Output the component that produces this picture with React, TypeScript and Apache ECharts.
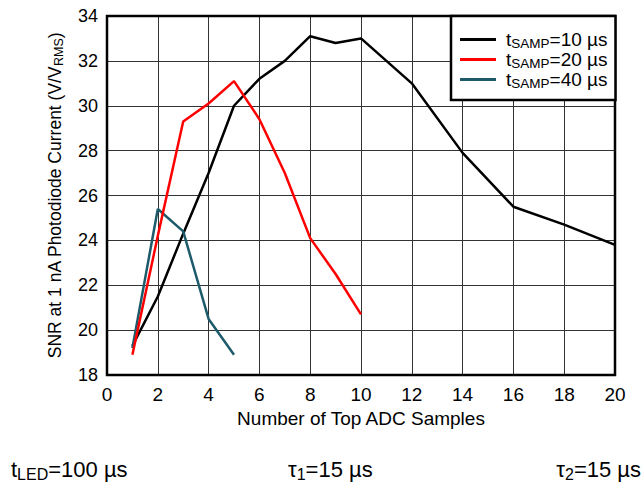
import React, { useEffect, useRef } from "react";
import * as echarts from "echarts";

const samples10 = [1, 2, 3, 4, 5, 6, 7, 8, 9, 10, 12, 14, 16, 18, 20];
const snr10 = [19.3, 21.5, 24.3, 27.0, 30.0, 31.2, 32.0, 33.1, 32.8, 33.0, 31.0, 27.9, 25.5, 24.7, 23.8];
const samples20 = [1, 2, 3, 4, 5, 6, 7, 8, 9, 10];
const snr20 = [18.9, 24.2, 29.3, 30.1, 31.1, 29.4, 27.0, 24.1, 22.5, 20.7];
const samples40 = [1, 2, 3, 4, 5];
const snr40 = [19.2, 25.4, 24.4, 20.5, 18.9];

const seriesNames = ["tSAMP=10 µs", "tSAMP=20 µs", "tSAMP=40 µs"];
const FONT = "'Liberation Sans', Arial, Helvetica, sans-serif";

const zip = (xs: number[], ys: number[]) => xs.map((x, i) => [x, ys[i]]);

export default function App() {
  const ref = useRef<HTMLDivElement>(null);
  useEffect(() => {
    if (!ref.current) return;
    const chart = echarts.init(ref.current, null, { renderer: "svg" });
    const legendRich = {
      g: { width: 5, lineHeight: 21 },
      m: { fontSize: 19, fontFamily: FONT, color: "#000", lineHeight: 21, verticalAlign: "middle" },
      s: { fontSize: 13.5, fontFamily: FONT, color: "#000", lineHeight: 13, verticalAlign: "bottom" },
    };
    const bottomRich = {
      m: { fontSize: 22, fontFamily: FONT, color: "#000", lineHeight: 26, verticalAlign: "middle" },
      s: { fontSize: 16, fontFamily: FONT, color: "#000", lineHeight: 16, verticalAlign: "bottom" },
    };
    chart.setOption({
      animation: false,
      backgroundColor: "#fff",
      grid: {
        left: 107,
        top: 16,
        width: 508,
        height: 359,
        show: true,
        borderColor: "#000",
        borderWidth: 2.5,
        backgroundColor: "transparent",
        z: 10,
      },
      legend: {
        left: 451,
        top: 16,
        orient: "vertical",
        backgroundColor: "#fff",
        borderColor: "#000",
        borderWidth: 2.5,
        padding: [14, 8, 10, 9],
        itemGap: 0,
        itemWidth: 36,
        itemHeight: 3,
        icon: "rect",
        data: seriesNames,
        formatter: (name: string) => {
          const rest = name.slice(5);
          return "{g|}{m|t}{s|SAMP}{m|" + rest + "}";
        },
        textStyle: { rich: legendRich },
        z: 20,
      },
      xAxis: {
        type: "value",
        min: 0,
        max: 20,
        interval: 2,
        name: "Number of Top ADC Samples",
        nameLocation: "middle",
        nameGap: 33,
        nameTextStyle: { fontSize: 19, fontFamily: FONT, color: "#000" },
        axisLine: { show: false },
        axisTick: { show: false },
        axisLabel: { fontSize: 19, fontFamily: FONT, color: "#000", margin: 10 },
        splitLine: { show: true, lineStyle: { color: "#333", width: 1 } },
      },
      yAxis: {
        type: "value",
        min: 18,
        max: 34,
        interval: 2,
        name: "{a|SNR at 1 nA Photodiode Current (V/V}{b|RMS}{a|)}",
        nameLocation: "middle",
        nameGap: 42,
        nameTextStyle: {
          rich: {
            a: { fontSize: 17.5, fontFamily: FONT, color: "#000", lineHeight: 21, verticalAlign: "middle" },
            b: { fontSize: 12.5, fontFamily: FONT, color: "#000", lineHeight: 12, verticalAlign: "bottom" },
          },
        },
        axisLine: { show: false },
        axisTick: { show: false },
        axisLabel: { fontSize: 18, fontFamily: FONT, color: "#000", margin: 9 },
        splitLine: { show: true, lineStyle: { color: "#333", width: 1 } },
      },
      series: [
        {
          name: seriesNames[0],
          type: "line",
          data: zip(samples10, snr10),
          symbol: "none",
          lineStyle: { color: "#000", width: 2.5 },
          itemStyle: { color: "#000" },
          z: 2,
        },
        {
          name: seriesNames[1],
          type: "line",
          data: zip(samples20, snr20),
          symbol: "none",
          lineStyle: { color: "#ff0000", width: 2.5 },
          itemStyle: { color: "#ff0000" },
          z: 4,
        },
        {
          name: seriesNames[2],
          type: "line",
          data: zip(samples40, snr40),
          symbol: "none",
          lineStyle: { color: "#1d5a6a", width: 2.5 },
          itemStyle: { color: "#1d5a6a" },
          z: 3,
        },
      ],
      graphic: [
        {
          type: "text",
          left: 11,
          top: 458,
          style: { text: "{m|t}{s|LED}{m|=100 µs}", rich: bottomRich },
        },
        {
          type: "text",
          left: 288,
          top: 458,
          style: { text: "{m|τ}{s|1}{m|=15 µs}", rich: bottomRich },
        },
        {
          type: "text",
          right: 0,
          top: 458,
          style: { text: "{m|τ}{s|2}{m|=15 µs}", rich: bottomRich },
        },
      ],
    });
    return () => chart.dispose();
  }, []);
  return (
    <div
      ref={ref}
      style={{ position: "fixed", left: 0, top: 0, width: 641, height: 484 }}
    />
  );
}
